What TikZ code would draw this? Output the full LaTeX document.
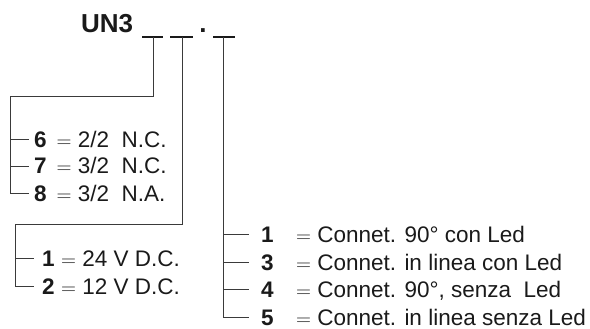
\documentclass[tikz,border=0pt]{standalone}
\usepackage{fontspec}
\setmainfont{Liberation Sans}
\definecolor{linec}{HTML}{3A3A3A}
\definecolor{txt}{HTML}{1A1A1A}
\begin{document}
\begin{tikzpicture}[x=1pt,y=-1pt,
  ln/.style={draw=linec, line width=0.85pt},
  dashln/.style={draw=txt, line width=1.9pt},
  lbl/.style={anchor=base west, inner sep=0pt, text=txt, font=\fontsize{22.5}{27}\selectfont},
  ttl/.style={inner sep=0pt, text=txt, font=\fontsize{26}{30}\selectfont\bfseries}]
\useasboundingbox (0,0) rectangle (590,329);
% title
\node[ttl, anchor=base west] (un3) at (81,33) {UN3};
\node[ttl, anchor=base] (dot) at (203,33) {.};
% dashes
\coordinate (d1a) at (142,37.3); \coordinate (d1b) at (163,37.3);
\coordinate (d2a) at (170,37.3); \coordinate (d2b) at (193,37.3);
\coordinate (d3a) at (213,37.3); \coordinate (d3b) at (235,37.3);
\draw[dashln] (d1a) -- (d1b);
\draw[dashln] (d2a) -- (d2b);
\draw[dashln] (d3a) -- (d3b);
\coordinate (t1) at (153,37.3);
\coordinate (t2) at (182,37.3);
\coordinate (t3) at (223,37.3);
% group 1 labels
\node[lbl] (l6) at (34,147.3) {\makebox[22.5pt][l]{\bfseries 6}$=$ 2/2\ \ N.C.};
\node[lbl] (l7) at (34,174) {\makebox[22.5pt][l]{\bfseries 7}$=$ 3/2\ \ N.C.};
\node[lbl] (l8) at (34,201.3) {\makebox[22.5pt][l]{\bfseries 8}$=$ 3/2\ \ N.A.};
\coordinate (e6) at (29,139);
\coordinate (e7) at (29,166);
\coordinate (e8) at (29,193);
\coordinate (k1) at (153,96);
\coordinate (b1) at (10.7,96);
\draw[ln] (t1) -- (k1) -- (b1) |- (e8);
\draw[ln] (b1 |- e6) -- (e6);
\draw[ln] (b1 |- e7) -- (e7);
% group 2 labels
\node[lbl] (l1v) at (42,266) {\makebox[19pt][l]{\bfseries 1}$=$ 24 V D.C.};
\node[lbl] (l2v) at (42,294.3) {\makebox[19pt][l]{\bfseries 2}$=$ 12 V D.C.};
\coordinate (e1v) at (34,258);
\coordinate (e2v) at (34,286);
\coordinate (k2) at (182,224);
\coordinate (b2) at (15,224);
\draw[ln] (t2) -- (k2) -- (b2) |- (e2v);
\draw[ln] (b2 |- e1v) -- (e1v);
% group 3 labels
\node[lbl] (c1) at (261,242.3) {\makebox[35pt][l]{\bfseries 1}$=$ Connet. 90° con Led};
\node[lbl] (c3) at (261,270) {\makebox[35pt][l]{\bfseries 3}$=$ Connet. in linea con Led};
\node[lbl] (c4) at (261,297.3) {\makebox[35pt][l]{\bfseries 4}$=$ Connet. 90°, senza\ \ Led};
\node[lbl] (c5) at (261,325) {\makebox[35pt][l]{\bfseries 5}$=$ Connet. in linea senza Led};
\coordinate (e1c) at (249,234);
\coordinate (e3c) at (249,262);
\coordinate (e4c) at (249,289);
\coordinate (e5c) at (249,317);
\draw[ln] (t3) |- (e5c);
\draw[ln] (t3 |- e1c) -- (e1c);
\draw[ln] (t3 |- e3c) -- (e3c);
\draw[ln] (t3 |- e4c) -- (e4c);
\end{tikzpicture}
\end{document}
